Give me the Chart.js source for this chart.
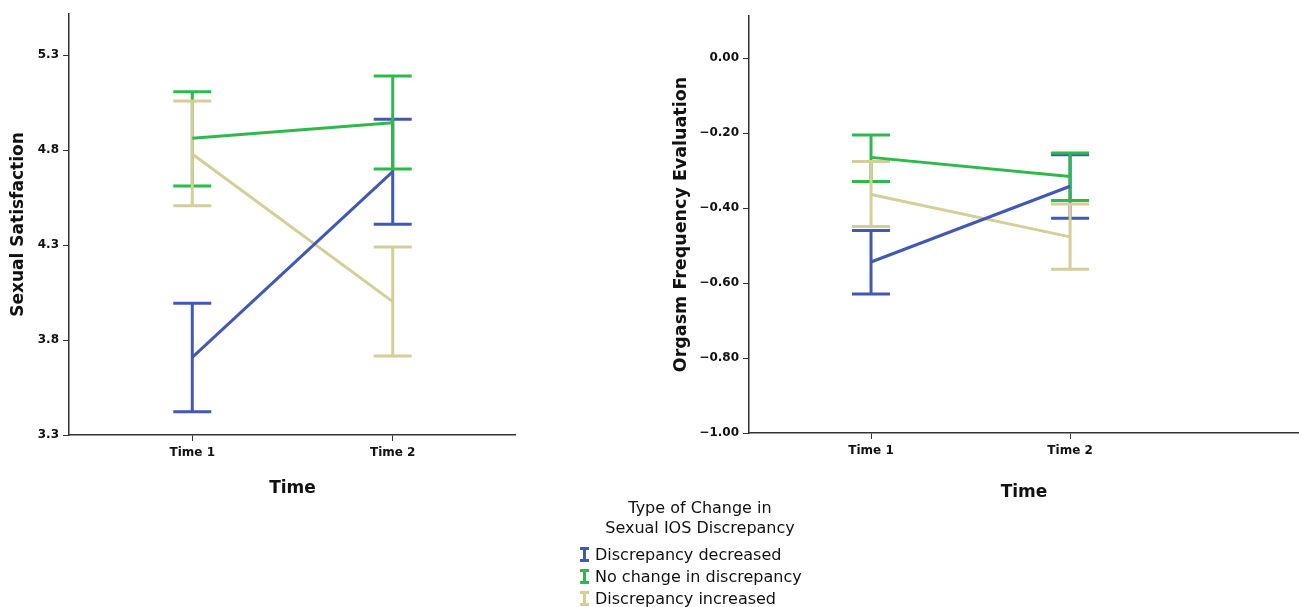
<!DOCTYPE html>
<html>
<head>
<meta charset="utf-8">
<script src="https://cdn.jsdelivr.net/npm/chart.js@4.4.0/dist/chart.umd.min.js"></script>
<style>
  html, body { margin:0; padding:0; background:#fff; width:1299px; height:607px; overflow:hidden; }
  #c1 { position:absolute; left:0; top:0; }
  #c2 { position:absolute; left:660px; top:0; }
  #legend { position:absolute; left:0; top:0; width:1299px; font-family:"DejaVu Sans", sans-serif; font-size:16px; color:#111; }
  .lt { position:absolute; width:300px; left:550px; text-align:center; line-height:20px; }
  .li { position:absolute; left:580px; height:20px; line-height:20px; white-space:nowrap; }
  .ic { display:inline-block; position:relative; width:9px; height:15px; margin-right:6px; vertical-align:-2px; }
  .ic i { position:absolute; display:block; }
</style>
</head>
<body>
<canvas id="c1" width="516" height="510" style="width:516px;height:510px"></canvas>
<canvas id="c2" width="639" height="515" style="width:639px;height:515px"></canvas>
<div id="legend"></div>
<script>
// ---- data ----
const timeLabels = ["Time 1", "Time 2"];
const groupNames = ["Discrepancy decreased", "No change in discrepancy", "Discrepancy increased"];
const groupColors = ["#4159b4", "#2dba4a", "#d4ce98"];
const legendTitle = ["Type of Change in", "Sexual IOS Discrepancy"];

// Sexual Satisfaction (mean, lower CI, upper CI)
const satDecMean = [3.709, 4.686];
const satDecLow  = [3.423, 4.409];
const satDecHigh = [3.993, 4.962];
const satNoMean  = [4.862, 4.944];
const satNoLow   = [4.611, 4.700];
const satNoHigh  = [5.107, 5.189];
const satIncMean = [4.779, 4.002];
const satIncLow  = [4.507, 3.716];
const satIncHigh = [5.058, 4.289];
const satTicks = [3.3, 3.8, 4.3, 4.8, 5.3];

// Orgasm Frequency Evaluation
const orgDecMean = [-0.544, -0.342];
const orgDecLow  = [-0.629, -0.427];
const orgDecHigh = [-0.460, -0.258];
const orgNoMean  = [-0.265, -0.316];
const orgNoLow   = [-0.329, -0.380];
const orgNoHigh  = [-0.205, -0.253];
const orgIncMean = [-0.364, -0.477];
const orgIncLow  = [-0.449, -0.563];
const orgIncHigh = [-0.276, -0.389];
const orgTicks = [-1.00, -0.80, -0.60, -0.40, -0.20, 0.00];

// ---- helpers ----
function mkDataset(i, mean, low, high) {
  return {
    label: groupNames[i],
    data: mean.map((v, k) => ({ x: k + 1, y: v, lo: low[k], hi: high[k] })),
    borderColor: groupColors[i],
    backgroundColor: groupColors[i],
    borderWidth: 3,
    pointRadius: 0,
    showLine: true,
    tension: 0
  };
}

const errorBars = {
  id: 'errorBars',
  beforeDatasetsDraw(chart) {
    const ctx = chart.ctx, xs = chart.scales.x, ys = chart.scales.y;
    ctx.save();
    ctx.lineWidth = 3;
    ctx.lineCap = 'butt';
    chart.data.datasets.forEach(ds => {
      ctx.strokeStyle = ds.borderColor;
      ds.data.forEach(p => {
        const x = xs.getPixelForValue(p.x);
        const y1 = ys.getPixelForValue(p.lo), y2 = ys.getPixelForValue(p.hi);
        ctx.beginPath();
        ctx.moveTo(x, y1); ctx.lineTo(x, y2);
        ctx.moveTo(x - 19, y1); ctx.lineTo(x + 19, y1);
        ctx.moveTo(x - 19, y2); ctx.lineTo(x + 19, y2);
        ctx.stroke();
      });
    });
    ctx.restore();
  }
};

function makeChart(id, datasets, yMin, yMax, ticks, decimals, yTitle, yTitleSize, yTitlePad, xMin, xMax, yAxisW, xAxisH, padTop, xTitlePad) {
  return new Chart(document.getElementById(id), {
    type: 'scatter',
    data: { datasets },
    plugins: [errorBars],
    options: {
      responsive: false,
      animation: false,
      layout: { padding: { left: 0, right: 0, top: padTop, bottom: 0 } },
      plugins: { legend: { display: false }, tooltip: { enabled: false } },
      scales: {
        x: {
          type: 'linear', min: xMin, max: xMax,
          afterBuildTicks: s => { s.ticks = timeLabels.map((t, k) => ({ value: k + 1 })); },
          afterFit: s => { s.height = xAxisH; },
          ticks: { callback: (v) => timeLabels[Math.round(v) - 1] || '', color: '#111', padding: 5,
                   font: { family: 'DejaVu Sans', size: 12, weight: 'bold' }, maxRotation: 0 },
          grid: { display: true, drawOnChartArea: false, drawTicks: true, tickLength: 6, color: '#333', lineWidth: 1 },
          border: { display: true, color: '#333', width: 1.5 },
          title: { display: true, text: 'Time', color: '#111', padding: { top: 0, bottom: xTitlePad },
                   font: { family: 'DejaVu Sans', size: 17, weight: 'bold' } }
        },
        y: {
          type: 'linear', min: yMin, max: yMax,
          afterBuildTicks: s => { s.ticks = ticks.map(v => ({ value: v })); },
          afterFit: s => { s.width = yAxisW; },
          ticks: { callback: v => Number(v).toFixed(decimals).replace('-', '\u2212'), color: '#111', padding: 4,
                   font: { family: 'DejaVu Sans', size: 12, weight: 'bold' } },
          grid: { display: true, drawOnChartArea: false, drawTicks: true, tickLength: 6, color: '#333', lineWidth: 1 },
          border: { display: true, color: '#333', width: 1.5 },
          title: { display: true, text: yTitle, color: '#111', padding: { top: yTitlePad, bottom: 0 },
                   font: { family: 'DejaVu Sans', size: yTitleSize, weight: 'bold' } }
        }
      }
    }
  });
}

// Left chart: axis at x=69, plot top 14, bottom 435
makeChart('c1', [
  mkDataset(0, satDecMean, satDecLow, satDecHigh),
  mkDataset(1, satNoMean, satNoLow, satNoHigh),
  mkDataset(2, satIncMean, satIncLow, satIncHigh)
], 3.3, 5.516, satTicks, 1, 'Sexual Satisfaction', 17, 8, 0.385, 2.615, 69, 75, 14, 11);

// Right chart: axis at x=749 (89 in canvas), plot top 16, bottom 433
makeChart('c2', [
  mkDataset(0, orgDecMean, orgDecLow, orgDecHigh),
  mkDataset(1, orgNoMean, orgNoLow, orgNoHigh),
  mkDataset(2, orgIncMean, orgIncLow, orgIncHigh)
], -1.0, 0.112, orgTicks, 2, 'Orgasm Frequency Evaluation', 17.5, 11, 0.387, 3.15, 89, 82, 16, 12);

// ---- legend ----
const lg = document.getElementById('legend');
legendTitle.forEach((t, k) => {
  const d = document.createElement('div');
  d.className = 'lt'; d.style.top = (498 + k * 20) + 'px'; d.textContent = t;
  lg.appendChild(d);
});
groupNames.forEach((n, k) => {
  const d = document.createElement('div');
  d.className = 'li'; d.style.top = (545 + k * 22) + 'px';
  const c = groupColors[k];
  d.innerHTML = '<span class="ic">' +
    '<i style="left:0;top:0;width:9px;height:3px;background:' + c + '"></i>' +
    '<i style="left:3px;top:0;width:3px;height:15px;background:' + c + '"></i>' +
    '<i style="left:0;bottom:0;width:9px;height:3px;background:' + c + '"></i></span>';
  d.appendChild(document.createTextNode(n));
  lg.appendChild(d);
});
</script>
</body>
</html>
